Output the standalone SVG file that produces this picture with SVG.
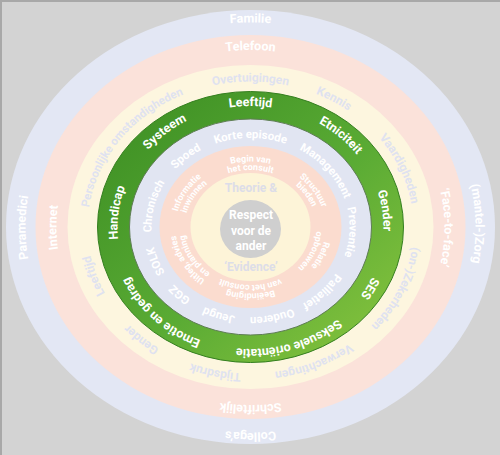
<svg xmlns="http://www.w3.org/2000/svg" xmlns:xlink="http://www.w3.org/1999/xlink" width="500" height="455" viewBox="0 0 500 455">
<defs>
<style>
text{font-family:Roboto,"Open Sans","Noto Sans",sans-serif;font-weight:bold;text-anchor:middle}
.w{fill:#ffffff}
.y{fill:#dfe2f0}
.c{fill:#dcdde8}
.f12{font-size:12.5px}
.f11{font-size:12px}
.f10{font-size:11.5px}
.f9{font-size:9px}
</style>
<linearGradient id="gg" x1="0" y1="0" x2="1" y2="1">
<stop offset="0" stop-color="#3a8c22"/>
<stop offset="0.55" stop-color="#5aab34"/>
<stop offset="1" stop-color="#8cc63f"/>
</linearGradient>
<path id="p1" d="M25.5 227.5A225 205 0 0 1 475.5 227.5A225 205 0 0 1 25.5 227.5A225 205 0 0 1 475.5 227.5A225 205 0 0 1 25.5 227.5"/>
<path id="p2" d="M56.5 227.5A194 177.5 0 0 1 444.5 227.5A194 177.5 0 0 1 56.5 227.5A194 177.5 0 0 1 444.5 227.5A194 177.5 0 0 1 56.5 227.5"/>
<path id="p3" d="M87.5 227.5A163 146 0 0 1 413.5 227.5A163 146 0 0 1 87.5 227.5A163 146 0 0 1 413.5 227.5A163 146 0 0 1 87.5 227.5"/>
<path id="p4" d="M117.5 227.5A133 121.5 0 0 1 383.5 227.5A133 121.5 0 0 1 117.5 227.5A133 121.5 0 0 1 383.5 227.5A133 121.5 0 0 1 117.5 227.5"/>
<path id="p5" d="M151.5 227.5A99 89.5 0 0 1 349.5 227.5A99 89.5 0 0 1 151.5 227.5A99 89.5 0 0 1 349.5 227.5A99 89.5 0 0 1 151.5 227.5"/>
<path id="p6a" d="M175.5 227.5A75 66 0 0 1 325.5 227.5A75 66 0 0 1 175.5 227.5A75 66 0 0 1 325.5 227.5A75 66 0 0 1 175.5 227.5"/>
<path id="p6b" d="M184.5 227.5A66 57.5 0 0 1 316.5 227.5A66 57.5 0 0 1 184.5 227.5A66 57.5 0 0 1 316.5 227.5A66 57.5 0 0 1 184.5 227.5"/>
</defs>
<rect x="0" y="0" width="500" height="455" fill="#d3d3d3"/>
<path d="M0 1H500M1 0V455" stroke="#a8a8a8" stroke-width="2"/>

<g id="ring-kanaal-buiten">
<ellipse cx="250.5" cy="227" rx="244.5" ry="217" fill="#e3e7f4"/>
<text class="w f12"><textPath xlink:href="#p1" startOffset="12.5%">Familie</textPath></text>
<text class="w f12"><textPath xlink:href="#p1" startOffset="24.86%">(mantel-)Zorg</textPath></text>
<text class="w f12"><textPath xlink:href="#p1" startOffset="37.5%">Collega’s</textPath></text>
<text class="w f12"><textPath xlink:href="#p1" startOffset="50%">Paramedici</textPath></text>
</g>

<g id="ring-medium">
<ellipse cx="250.5" cy="227" rx="215" ry="192" fill="#fbe2da"/>
<text class="w f12"><textPath xlink:href="#p2" startOffset="12.5%">Telefoon</textPath></text>
<text class="w f12"><textPath xlink:href="#p2" startOffset="25%">‘Face-to-face’</textPath></text>
<text class="w f12"><textPath xlink:href="#p2" startOffset="37.5%">Schriftelijk</textPath></text>
<text class="w f12"><textPath xlink:href="#p2" startOffset="50%">Internet</textPath></text>
</g>

<g id="ring-persoon">
<ellipse cx="250.5" cy="227" rx="183" ry="162" fill="#fdf6df"/>
<text class="y f11"><textPath xlink:href="#p3" startOffset="12.5%">Overtuigingen</textPath></text>
<text class="y f11"><textPath xlink:href="#p3" startOffset="16.89%">Kennis</textPath></text>
<text class="y f11"><textPath xlink:href="#p3" startOffset="21.86%">Vaardigheden</textPath></text>
<text class="y f11"><textPath xlink:href="#p3" startOffset="28.33%">(on-)Zekerheden</textPath></text>
<text class="y f11"><textPath xlink:href="#p3" startOffset="34.17%">Verwachtingen</textPath></text>
<text class="y f11"><textPath xlink:href="#p3" startOffset="39.31%">Tijdsdruk</textPath></text>
<text class="y f11"><textPath xlink:href="#p3" startOffset="43.44%">Gender</textPath></text>
<text class="y f11"><textPath xlink:href="#p3" startOffset="47.5%">Leeftijd</textPath></text>
<text class="y f10"><textPath xlink:href="#p3" startOffset="55%">Persoonlijke omstandigheden</textPath></text>
</g>

<g id="ring-diversiteit">
<ellipse cx="250.5" cy="227" rx="153" ry="135.5" fill="url(#gg)" stroke="#347f1f" stroke-width="1"/>
<ellipse cx="250.5" cy="227" rx="121" ry="108" fill="#e1e5f2" stroke="#5f7d55" stroke-width="1"/>
<text class="w f12"><textPath xlink:href="#p4" startOffset="12.5%">Leeftijd</textPath></text>
<text class="w f12"><textPath xlink:href="#p4" startOffset="18.5%">Etniciteit</textPath></text>
<text class="w f12"><textPath xlink:href="#p4" startOffset="23.96%">Gender</textPath></text>
<text class="w f12"><textPath xlink:href="#p4" startOffset="28.88%">SES</textPath></text>
<text class="w f12"><textPath xlink:href="#p4" startOffset="35%">Seksuele oriëntatie</textPath></text>
<text class="w f12"><textPath xlink:href="#p4" startOffset="43.75%">Emotie en gedrag</textPath></text>
<text class="w f12"><textPath xlink:href="#p4" startOffset="50.92%">Handicap</textPath></text>
<text class="w f12"><textPath xlink:href="#p4" startOffset="56.86%">Systeem</textPath></text>
</g>

<g id="ring-context">
<text class="w f10"><textPath xlink:href="#p5" startOffset="12.5%">Korte episode</textPath></text>
<text class="w f10"><textPath xlink:href="#p5" startOffset="19.65%">Management</textPath></text>
<text class="w f10"><textPath xlink:href="#p5" startOffset="25.4%">Preventie</textPath></text>
<text class="w f10"><textPath xlink:href="#p5" startOffset="31.04%">Palliatief</textPath></text>
<text class="w f10"><textPath xlink:href="#p5" startOffset="35.69%">Ouderen</textPath></text>
<text class="w f10"><textPath xlink:href="#p5" startOffset="40.14%">Jeugd</textPath></text>
<text class="w f10"><textPath xlink:href="#p5" startOffset="43.79%">GGZ</textPath></text>
<text class="w f10"><textPath xlink:href="#p5" startOffset="47.17%">SOLK</textPath></text>
<text class="w f10"><textPath xlink:href="#p5" startOffset="51.81%">Chronisch</textPath></text>
<text class="w f10"><textPath xlink:href="#p5" startOffset="56.81%">Spoed</textPath></text>
</g>

<g id="ring-consultfasen">
<ellipse cx="250.5" cy="227" rx="91" ry="81" fill="#fbdccf"/>
<text class="w f9"><textPath xlink:href="#p6a" startOffset="12.5%">Begin van</textPath></text>
<text class="w f9"><textPath xlink:href="#p6b" startOffset="12.5%">het consult</textPath></text>
<text class="w f9"><textPath xlink:href="#p6a" startOffset="20.53%">Structuur</textPath></text>
<text class="w f9"><textPath xlink:href="#p6b" startOffset="20.53%">bieden</textPath></text>
<text class="w f9"><textPath xlink:href="#p6a" startOffset="28.18%">Relatie</textPath></text>
<text class="w f9"><textPath xlink:href="#p6b" startOffset="28.18%">opbouwen</textPath></text>
<text class="w f9"><textPath xlink:href="#p6a" startOffset="37.5%">Beëindiging</textPath></text>
<text class="w f9"><textPath xlink:href="#p6b" startOffset="37.5%">van het consult</textPath></text>
<text class="w f9"><textPath xlink:href="#p6a" startOffset="46.01%">Uitleg, advies</textPath></text>
<text class="w f9"><textPath xlink:href="#p6b" startOffset="46.01%">en planning</textPath></text>
<text class="w f9"><textPath xlink:href="#p6a" startOffset="54.21%">Informatie</textPath></text>
<text class="w f9"><textPath xlink:href="#p6b" startOffset="54.21%">inwinnen</textPath></text>
</g>

<g id="ring-theorie">
<ellipse cx="250.5" cy="227" rx="60" ry="54" fill="#fdf4d8"/>
<text class="c f11" x="251" y="192">Theorie &amp;</text>
<text class="c f11" x="251" y="271">‘Evidence’</text>
</g>

<g id="kern">
<ellipse cx="250.5" cy="229" rx="30.5" ry="29" fill="#cfcfcf"/>
<text class="w f11" x="251" y="219">Respect</text>
<text class="w f11" x="251" y="234.5">voor de</text>
<text class="w f11" x="251" y="250">ander</text>
</g>
</svg>
